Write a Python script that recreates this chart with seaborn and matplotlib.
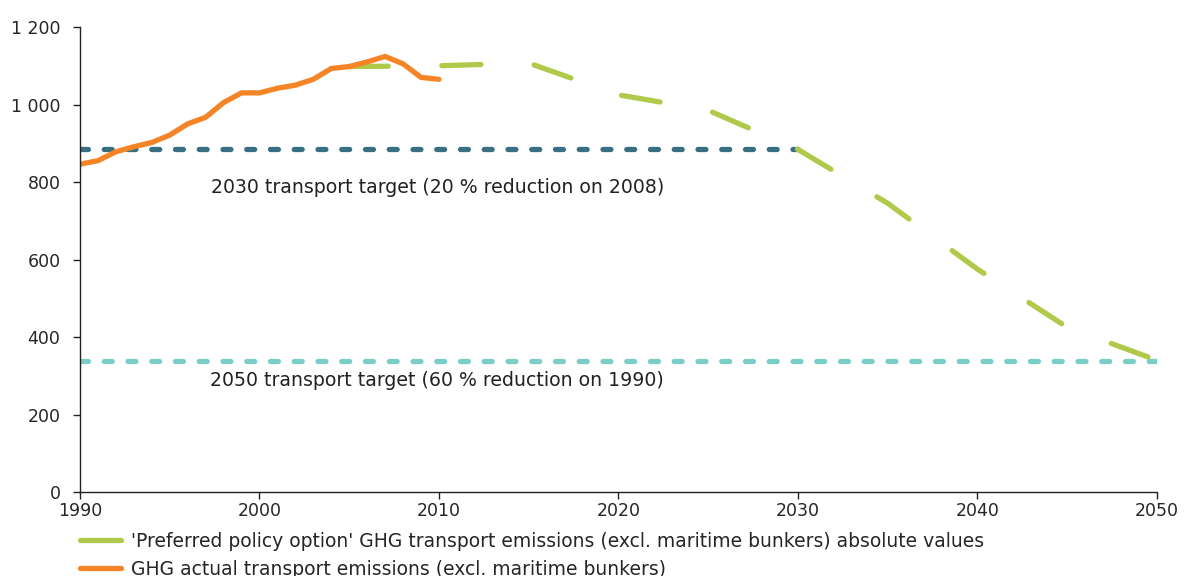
import pandas as pd
import numpy as np
import matplotlib.pyplot as plt
from matplotlib.lines import Line2D
from matplotlib.ticker import FuncFormatter
import seaborn as sns

# data (Mt CO2-eq)
actual_years = list(range(1990, 2011))
actual_vals = [846, 855, 878, 891, 902, 921, 950, 967, 1005, 1030, 1030,
               1042, 1050, 1065, 1093, 1098, 1110, 1124, 1105, 1070, 1065]
policy_years = [2005, 2010, 2015, 2020, 2025, 2030, 2035, 2040, 2045, 2050]
policy_vals = [1098, 1100, 1107, 1025, 985, 884, 745, 575, 425, 340]
target_2030_years = [1990, 2030]
target_2030_val = 884
target_2050_years = [1990, 2050]
target_2050_val = 338

lbl_policy = "'Preferred policy option' GHG transport emissions (excl. maritime bunkers) absolute values"
lbl_actual = "GHG actual transport emissions (excl. maritime bunkers)"

c_green = '#B1C94A'
c_orange = '#F58426'
c_dark = '#386F83'
c_cyan = '#7BCDC8'

sns.set_style('ticks')
plt.rcParams['font.family'] = ['DejaVu Sans']
plt.rcParams['font.size'] = 12.5

actual = pd.DataFrame({'year': actual_years, 'value': actual_vals})
policy = pd.DataFrame({'year': policy_years, 'value': policy_vals})
t2030 = pd.DataFrame({'year': target_2030_years, 'value': [target_2030_val] * 2})
t2050 = pd.DataFrame({'year': target_2050_years, 'value': [target_2050_val] * 2})

fig = plt.figure(figsize=(11.88, 5.76), dpi=100)
ax = fig.add_axes([0.0673, 0.1458, 0.9066, 0.8073])

lw = 3.8
sns.lineplot(data=t2050, x='year', y='value', color=c_cyan, lw=lw, ax=ax)
ax.lines[-1].set_dashes((1.5, 3.0))
ax.lines[-1].set_dash_capstyle('round')
sns.lineplot(data=t2030, x='year', y='value', color=c_dark, lw=lw, ax=ax)
ax.lines[-1].set_dashes((1.5, 3.0))
ax.lines[-1].set_dash_capstyle('round')
sns.lineplot(data=policy, x='year', y='value', color=c_green, lw=lw, ax=ax)
ax.lines[-1].set_dashes((7.4, 10.15))
ax.lines[-1].set_dash_capstyle('round')
sns.lineplot(data=actual, x='year', y='value', color=c_orange, lw=lw, ax=ax)
ax.lines[-1].set_solid_capstyle('round')
ax.lines[-1].set_solid_joinstyle('round')

ax.text(2009.9, 785, '2030 transport target (20 % reduction on 2008)',
        ha='center', va='center', fontsize=13.6, color='#222222')
ax.text(2009.9, 289, '2050 transport target (60 % reduction on 1990)',
        ha='center', va='center', fontsize=13.6, color='#222222')

ax.set_xlim(1990, 2050)
ax.set_ylim(0, 1200)
ax.set_xticks(range(1990, 2051, 10))
ax.set_yticks(range(0, 1201, 200))
ax.yaxis.set_major_formatter(FuncFormatter(lambda v, p: f'{int(v):,}'.replace(',', ' ')))
ax.set_xlabel('')
ax.set_ylabel('')
ax.tick_params(axis='both', length=5, width=1, color='#222222', labelsize=12.5)
ax.tick_params(axis='x', pad=2)
ax.tick_params(axis='y', pad=9)
for s in ['top', 'right']:
    ax.spines[s].set_visible(False)
for s in ['left', 'bottom']:
    ax.spines[s].set_color('#222222')
    ax.spines[s].set_linewidth(1)

handles = [Line2D([0], [0], color=c_green, lw=lw, solid_capstyle='round'),
           Line2D([0], [0], color=c_orange, lw=lw, solid_capstyle='round')]
fig.legend(handles, [lbl_policy, lbl_actual], loc='upper left',
           bbox_to_anchor=(0.0673, 0.0764), frameon=False, fontsize=13.5,
           handlelength=2.2, handletextpad=0.5, labelspacing=0.48,
           borderpad=0, borderaxespad=0)

fig.savefig('out.png', dpi=100)
